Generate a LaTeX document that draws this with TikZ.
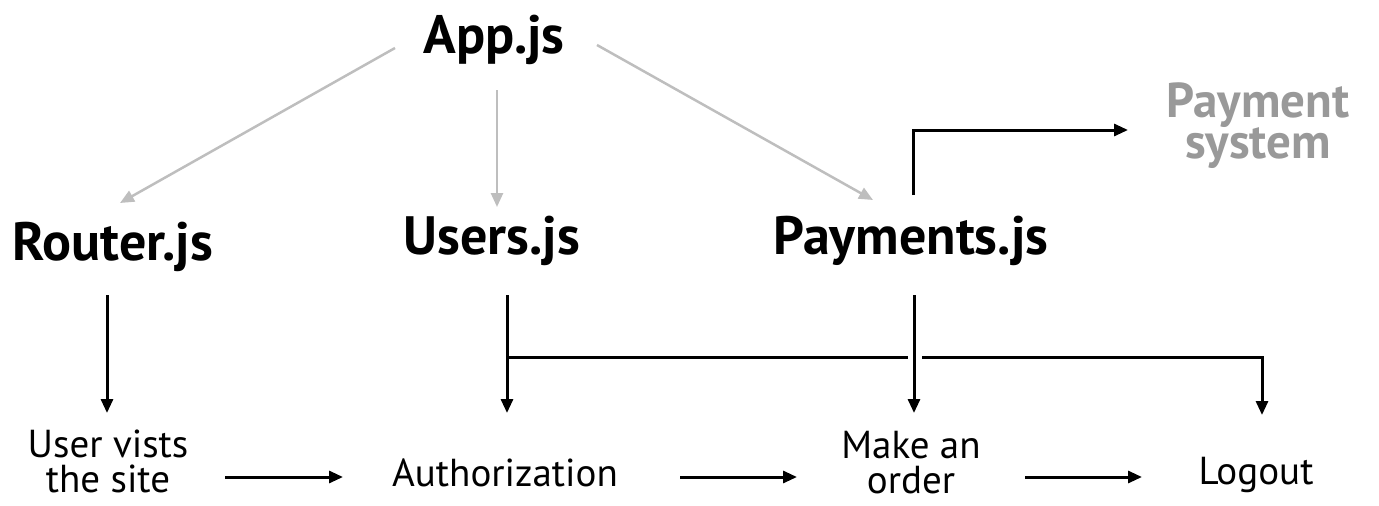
\documentclass[tikz,border=0pt]{standalone}
\usepackage{fontspec}
\setmainfont{PT Sans}
\usetikzlibrary{arrows.meta,calc}
\definecolor{feedgray}{RGB}{190,190,190}
\definecolor{extgray}{RGB}{153,153,153}
\tikzset{
  module/.style={font=\bfseries\fontsize{54}{54}\selectfont, inner sep=0pt, anchor=base},
  stage/.style={font=\fontsize{39}{35}\selectfont, align=center, inner sep=0pt, anchor=base},
  feed/.style={draw=feedgray, line width=2.5pt, -{Triangle[length=14pt,width=12pt]}},
  flow/.style={draw=black, line width=3pt, -{Triangle[length=14pt,width=12pt]}},
}
\begin{document}
\begin{tikzpicture}[x=1pt,y=-1pt]
  \useasboundingbox (0,0) rectangle (1379,506);
  % modules (two-line nodes sit on their last line)
  \node[module] (app) at (494,53) {App.js};
  \node[module] (router) at (113,260) {Router.js};
  \node[module] (users) at (492,254) {Users.js};
  \node[module] (payments) at (911,254) {Payments.js};
  \node[module, text=extgray, font=\bfseries\fontsize{49}{41}\selectfont, align=center]
    (paysys) at (1258,158) {Payment\\system};
  % stages
  \node[stage] (visit) at (108,492) {User vists\\the site};
  \node[stage] (auth) at (505,486) {Authorization};
  \node[stage] (order) at (911,493) {Make an\\order};
  \node[stage] (logout) at (1256,484) {Logout};
  % App.js feeds the modules
  \draw[feed] ($(app.base)+(-99,-5)$) -- ($(router.base)+(7,-57)$);
  \draw[feed] ($(app.base)+(3,37)$) -- ($(users.base)+(5,-47)$);
  \draw[feed] ($(app.base)+(103,-8)$) -- ($(payments.base)+(-38,-54)$);
  % modules down to the stages
  \draw[flow] ($(router.base)+(-6,35)$) -- ($(visit.base)+(-1,-79)$);
  \draw[flow] ($(users.base)+(15,41)$) -- ($(auth.base)+(2,-73)$);
  \draw[flow] ($(payments.base)+(3,41)$) -- ($(order.base)+(3,-80)$);
  \draw[flow] ($(payments.base)+(2,-59)$) |- ($(paysys.base)+(-130,-28)$);
  % the line from Users.js, broken where it crosses
  \draw[line width=3pt] ($(users.base)+(15,103)$) -- ($(payments.base)+(-3,103)$);
  \draw[flow] ($(payments.base)+(11,103)$) -| ($(logout.base)+(6,-69)$);
  % stage to stage
  \draw[flow] ($(visit.base)+(117,-15)$) -- ($(auth.base)+(-162,-9)$);
  \draw[flow] ($(auth.base)+(175,-9)$) -- ($(order.base)+(-114,-16)$);
  \draw[flow] ($(order.base)+(114,-16)$) -- ($(logout.base)+(-114,-7)$);
\end{tikzpicture}
\end{document}
